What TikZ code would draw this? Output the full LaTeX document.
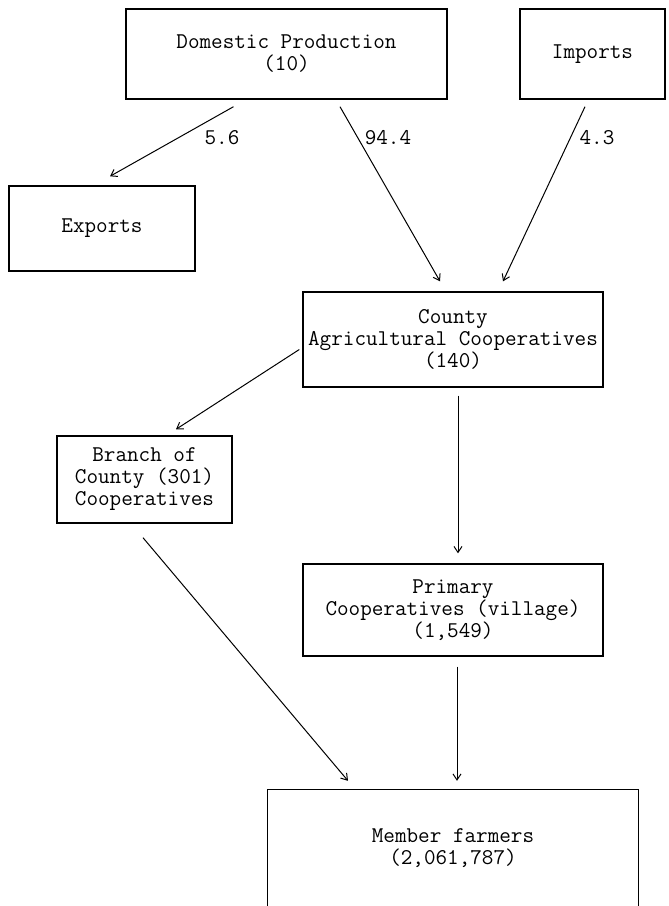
\documentclass[tikz,border=0pt]{standalone}
\usetikzlibrary{arrows.meta}

\tikzset{
  box/.style={draw, line width=1.4pt, inner sep=0pt, align=center,
    font=\fontsize{22.5}{22}\selectfont\ttfamily},
  openbox/.style={inner sep=0pt, align=center,
    font=\fontsize{22.5}{22}\selectfont\ttfamily},
  flow/.style={line width=1pt, -{Straight Barb[length=6pt,width=8pt]}},
  qty/.style={inner sep=0pt, font=\fontsize{22.5}{22}\selectfont\ttfamily}
}

\begin{document}
\begin{tikzpicture}[x=1pt, y=-1pt]
  \useasboundingbox (0,0) rectangle (669,906);

  % sources
  \node[box, minimum width=321pt, minimum height=90pt] (dom) at (286.5,54)
    {Domestic Production\\(10)};
  \node[box, minimum width=145pt, minimum height=90pt] (imp) at (592.5,54)
    {Imports};
  \node[box, minimum width=186pt, minimum height=85pt] (exp) at (102,228.5)
    {Exports};

  % cooperative levels
  \node[box, minimum width=300pt, minimum height=95pt] (cty) at (453,339.5)
    {County\\Agricultural Cooperatives\\(140)};
  \node[box, minimum width=175pt, minimum height=87pt] (brn) at (144.5,479.5)
    {Branch of\\County (301)\\Cooperatives};
  \node[box, minimum width=300pt, minimum height=92pt] (pri) at (453,610)
    {Primary\\Cooperatives (village)\\(1,549)};

  % farmers: box open at the bottom
  \node[openbox, minimum width=370pt, minimum height=116pt] (mem) at (453,848)
    {Member farmers\\(2,061,787)};
  \draw[line width=1.2pt] (mem.south west) -- (mem.north west)
    -- (mem.north east) -- (mem.south east);

  % flows with shares
  \draw[flow] ([xshift=-53pt,yshift=-7pt]dom.south)
    -- ([xshift=8pt,yshift=9pt]exp.north);
  \draw[flow] ([xshift=53.5pt,yshift=-7pt]dom.south)
    -- ([xshift=-13pt,yshift=10pt]cty.north);
  \draw[flow] ([xshift=-7.5pt,yshift=-7pt]imp.south)
    -- ([xshift=50pt,yshift=10pt]cty.north);
  \node[qty] (l56) at (222,138) {5.6};
  \node[qty] (l944) at (388,138) {94.4};
  \node[qty] (l43) at (597,138) {4.3};

  \draw[flow] ([xshift=-3pt,yshift=-10pt]cty.west)
    -- ([xshift=31.5pt,yshift=6pt]brn.north);
  \draw[flow] ([xshift=5pt,yshift=-8pt]cty.south)
    -- ([xshift=5pt,yshift=10pt]pri.north);
  \draw[flow] ([xshift=-1.5pt,yshift=-14pt]brn.south)
    -- ([xshift=-105pt,yshift=9pt]mem.north);
  \draw[flow] ([xshift=4pt,yshift=-10pt]pri.south)
    -- ([xshift=4pt,yshift=9pt]mem.north);
\end{tikzpicture}
\end{document}
